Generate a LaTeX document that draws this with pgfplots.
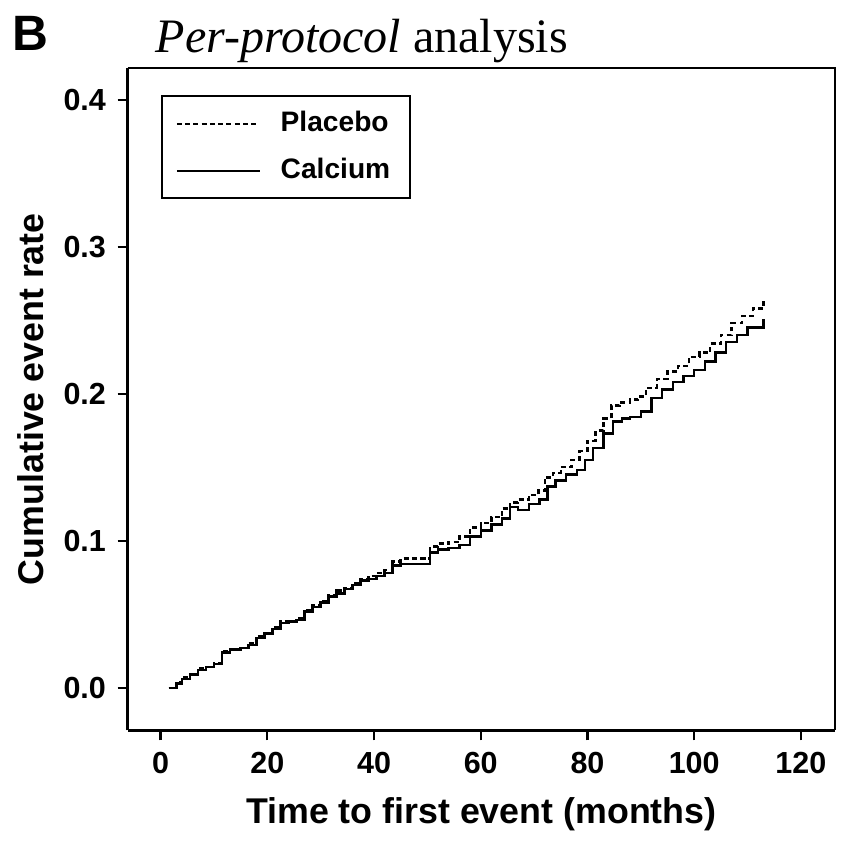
\documentclass[border=0pt]{standalone}
\usepackage{fontspec}
\setmainfont{Liberation Sans}
\newfontfamily\timesfont{Liberation Serif}
\usepackage{pgfplots}
\pgfplotsset{compat=1.18}
\usepackage{pgfplotstable}
\pgfplotstableread{
m v
1.5 0.000
3 0.004
4 0.007
5.5 0.009
7 0.013
8.5 0.014
10 0.017
11.5 0.025
13 0.026
15 0.027
16.5 0.030
18 0.035
19.5 0.037
21 0.041
22.5 0.045
24 0.045
25.5 0.047
27 0.053
28.5 0.056
30 0.059
31.5 0.063
33 0.066
34.5 0.068
36 0.071
37.5 0.074
39 0.076
40.5 0.078
42 0.080
43.5 0.086
45 0.088
47 0.088
49.5 0.088
50.5 0.096
52 0.098
54 0.099
56 0.103
58 0.109
60 0.112
62 0.116
64 0.122
65.5 0.126
67 0.128
69 0.131
70.8 0.134
72 0.143
73.5 0.146
75 0.150
77 0.155
78.5 0.161
80 0.168
81.5 0.175
83 0.183
84.5 0.192
86 0.194
88 0.196
89.5 0.198
91 0.204
93 0.210
95 0.215
97 0.219
99 0.225
101 0.228
103 0.234
105 0.240
107 0.248
109 0.253
111 0.258
113 0.264
}\placebo
\pgfplotstableread{
m v
1.5 0.000
3 0.003
4 0.006
5.5 0.009
7 0.012
8.5 0.014
10 0.016
11.5 0.024
13 0.026
15 0.027
16.5 0.029
18 0.034
19.5 0.037
21 0.040
22.5 0.044
24 0.045
25.5 0.046
27 0.052
28.5 0.055
30 0.058
31.5 0.062
33 0.064
34.5 0.067
36 0.070
37.5 0.073
39 0.074
40.5 0.076
42 0.078
43.5 0.083
45 0.084
47 0.084
49.5 0.084
50.5 0.092
52 0.094
54 0.095
56 0.097
58 0.103
60 0.107
62 0.111
64 0.115
65.5 0.123
67 0.121
69 0.125
71 0.128
72.5 0.137
74 0.141
76 0.145
78 0.148
79.5 0.155
81 0.163
83 0.173
84.8 0.181
86.5 0.183
88 0.184
90 0.188
92 0.197
94 0.203
96 0.208
98 0.212
100 0.216
102 0.222
104 0.228
106 0.235
108 0.240
110 0.245
113 0.251
}\calcium
\begin{document}
\begin{tikzpicture}
\begin{axis}[
  scale only axis,
  width=213.6pt, height=200pt,
  xmin=-6.2, xmax=126.4,
  ymin=-0.029, ymax=0.4216,
  xtick={0,20,...,120},
  ytick={0,0.1,0.2,0.3,0.4},
  yticklabel style={/pgf/number format/.cd,fixed,fixed zerofill,precision=1},
  /pgf/number format/assume math mode=true,
  tick label style={font=\bfseries\fontsize{9.2}{11}\selectfont},
  axis x line*=bottom, axis y line*=left,
  tick align=outside,
  major tick length=3pt,
  tick style={line width=0.7pt, black},
  axis line style={line width=0.7pt},
  xlabel={Time to first event (months)},
  ylabel={Cumulative event rate},
  label style={font=\bfseries\fontsize{10.8}{13}\selectfont},
  xlabel style={yshift=-0.5pt},
  ylabel style={yshift=-1pt},
  legend style={at={(rel axis cs:0,1)}, anchor=north west, xshift=10.2pt, yshift=-8.3pt,
    draw=black, line width=0.6pt, font=\bfseries\fontsize{8.5}{10}\selectfont,
    inner xsep=4pt, inner ysep=2.5pt, row sep=2.5pt},
  legend cell align=left,
  legend image code/.code={\draw[#1] (0pt,0pt) -- (25pt,0pt);},
  clip=false,
]
\draw[line width=0.7pt] (rel axis cs:0,1) -- (rel axis cs:1,1) -- (rel axis cs:1,0);
\addplot[const plot, black, line width=0.75pt, dash pattern=on 1.5pt off 1pt] table[x=m,y=v]{\placebo};
\addlegendentry{\hspace{4pt}Placebo\hspace{8pt}}
\addplot[const plot, black, line width=0.75pt] table[x=m,y=v]{\calcium};
\addlegendentry{\hspace{4pt}Calcium\hspace{8pt}}
\node[anchor=center, font=\bfseries\fontsize{15}{17}\selectfont] at ([xshift=-29.4pt,yshift=10.5pt]rel axis cs:0,1) {B};
\node[anchor=west, font=\timesfont\fontsize{14.5}{17}\selectfont] at ([xshift=5pt,yshift=8pt]rel axis cs:0,1) {\textit{Per-protocol} analysis};
\path ([xshift=-38.5pt,yshift=20.5pt]rel axis cs:0,1) -- ([xshift=1.5pt,yshift=-34pt]rel axis cs:1,0);
\end{axis}
\end{tikzpicture}
\end{document}
